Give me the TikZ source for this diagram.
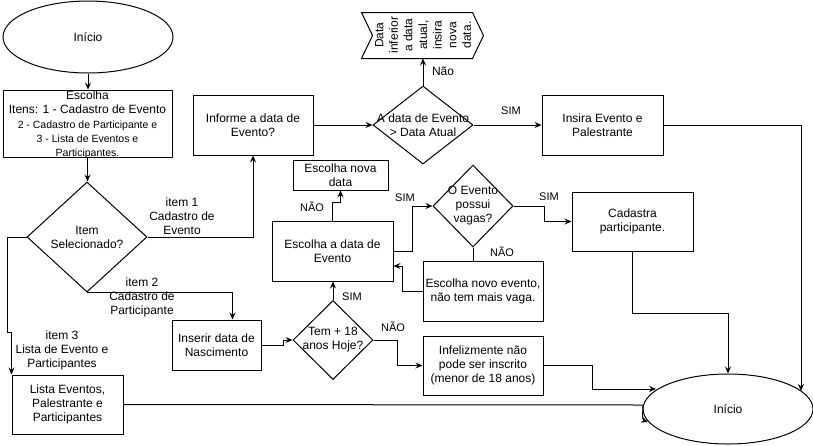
\documentclass[tikz,border=0pt]{standalone}
\usepackage{fontspec}
\setmainfont{Liberation Sans}
\usetikzlibrary{shapes.geometric,arrows.meta,calc}
\begin{document}
\begin{tikzpicture}[x=1pt,y=-1pt,line width=1pt,
  font=\fontsize{12}{14}\selectfont,
  box/.style={draw,rectangle,align=center,inner sep=1pt},
  dia/.style={draw,diamond,inner sep=0pt},
  term/.style={draw,ellipse,inner sep=0pt},
  arr/.style={-{Stealth[length=7pt,width=6pt,inset=2.5pt]}},
  lbl/.style={align=center,inner sep=0pt},
  sm/.style={font=\fontsize{11}{13}\selectfont}]
\useasboundingbox (0,0) rectangle (813,445);

% shapes
\node[term,minimum width=170pt,minimum height=72pt] (start) at (88,37) {Início};
\node[box,minimum width=169pt,minimum height=67pt,
  label={[lbl,yshift=-1pt]center:Escolha\\Itens: 1 - Cadastro de Evento\\[1.5pt]{\fontsize{10.5}{13}\selectfont 2 - Cadastro de Participante e}\\{\fontsize{10.5}{13}\selectfont 3 - Lista de Eventos e}\\{\fontsize{10.5}{13}\selectfont Participantes.}}] (choose) at (87.5,123.5) {};
\node[dia,minimum width=120pt,minimum height=110pt,label={[lbl]center:Item\\Selecionado?}] (item) at (87,237) {};
\node[box,minimum width=120pt,minimum height=60pt] (informe) at (253,125) {Informe a data de\\Evento?};
\node[dia,minimum width=100pt,minimum height=78pt,label={[lbl]center:A data de Evento\\> Data Atual}] (dataev) at (423,125) {};
\node[rectangle,minimum width=121pt,minimum height=45pt,inner sep=0pt] (flag) at (422.5,35.5) {};
\draw (flag.north west) -- ($(flag.north east)+(-11,0)$) -- (flag.east) -- ($(flag.south east)+(-11,0)$) -- (flag.south west) -- ($(flag.west)+(11,0)$) -- cycle;
\node[lbl,rotate=90,font=\fontsize{12}{14.6}\selectfont] (flagtext) at (423,35) {Data\\inferior\\a data\\atual,\\insira\\nova\\data.};
\node[box,minimum width=121pt,minimum height=60pt] (insira) at (602.5,125) {Insira Evento e\\Palestrante};
\node[box,minimum width=121pt,minimum height=59pt] (cadastra) at (632.5,221.5) {Cadastra\\participante.};
\node[term,minimum width=170pt,minimum height=70pt] (end) at (728,409) {Início};
\node[box,minimum width=120pt,minimum height=59pt] (infeliz) at (483,365.5) {Infelizmente não\\pode ser inscrito\\(menor de 18 anos)};
\node[box,minimum width=111pt,minimum height=59pt] (lista) at (67.5,404.5) {Lista Eventos,\\Palestrante e\\Participantes};
\node[box,minimum width=89pt,minimum height=50pt] (inserir) at (216.5,345) {Inserir data de\\Nascimento};
\node[dia,minimum width=80pt,minimum height=79pt,label={[lbl]center:Tem + 18\\anos Hoje?}] (tem) at (333,340) {};
\node[box,minimum width=121pt,minimum height=60pt] (escdata) at (332.5,251) {Escolha a data de\\Evento};
\node[box,minimum width=95pt,minimum height=30pt] (novadata) at (340.5,175) {Escolha nova\\data};
\node[dia,minimum width=80pt,minimum height=82pt,label={[lbl]center:O Evento\\possui\\vagas?}] (vagas) at (473,206) {};
\node[box,minimum width=120pt,minimum height=60pt] (novoev) at (483,291) {Escolha novo evento,\\não tem mais vaga.};

% connectors
\draw[arr] (start.south) -- (start.south |- choose.north);
\draw[arr] (choose.south) -- (choose.south |- item.north);
\draw[arr] (item.east) -| (informe.south);
\node[lbl] (l1) at (182,216) {item 1\\Cadastro de\\Evento};
\draw[arr] (informe.east) -- (dataev.west);
\draw[arr] (dataev.north) -- (dataev.north |- flag.south);
\node[lbl] (l2) at (443,71) {Não};
\draw[arr] (dataev.east) -- (insira.west);
\node[lbl,sm] (l3) at (511,111) {SIM};
\draw[arr] (insira.east) -| ($(end.center)+(73,-18)$);
\draw[arr] (cadastra.south) -- ++(0,62) -| (end.north);
\draw[arr] (infeliz.east) -- ++(49,0) |- ($(end.center)+(-72,-20)$);
\draw (lista.east) -- ($(end.center)+(-85,-4)$);
\draw[arr] ($(end.center)+(-85,-4)$) to[out=-90,in=160] ($(end.center)+(-80,13)$);
\draw[arr] (item.west) -- ++(-19,0) -- ++(0,95) -- ++(4,0) -- (lista.north west);
\node[lbl] (l4) at (62,350) {item 3\\Lista de Evento e\\Participantes};
\draw[arr] (item.south) -| ($(inserir.north)+(16,0)$);
\node[lbl] (l5) at (142,297) {item 2\\Cadastro de\\Participante};
\draw[arr] (inserir.east) -- ++(22,0) -- ++(0,-5) -- (tem.west);
\draw[arr] (tem.east) -- ++(24,0) |- (infeliz.west);
\node[lbl,sm] (l6) at (393,327) {NÃO};
\draw[arr] (tem.north) -- (tem.north |- escdata.south);
\node[lbl,sm] (l7) at (352,297) {SIM};
\draw[arr] (escdata.north) -- ++(0,-18) -| (novadata.south);
\node[lbl,sm] (l8) at (312,207) {NÃO};
\draw[arr] (escdata.east) -- ++(19,0) |- (vagas.west);
\node[lbl,sm] (l9) at (405,198) {SIM};
\draw[arr] (vagas.east) -- ++(31,0) |- (cadastra.west);
\node[lbl,sm] (l10) at (549,197) {SIM};
\draw (vagas.south) -- (vagas.south |- novoev.north);
\node[lbl,sm] (l11) at (502,252) {NÃO};
\draw[arr] (novoev.west) -- ++(-20,0) |- ($(escdata.east)+(0,15)$);
\end{tikzpicture}
\end{document}
